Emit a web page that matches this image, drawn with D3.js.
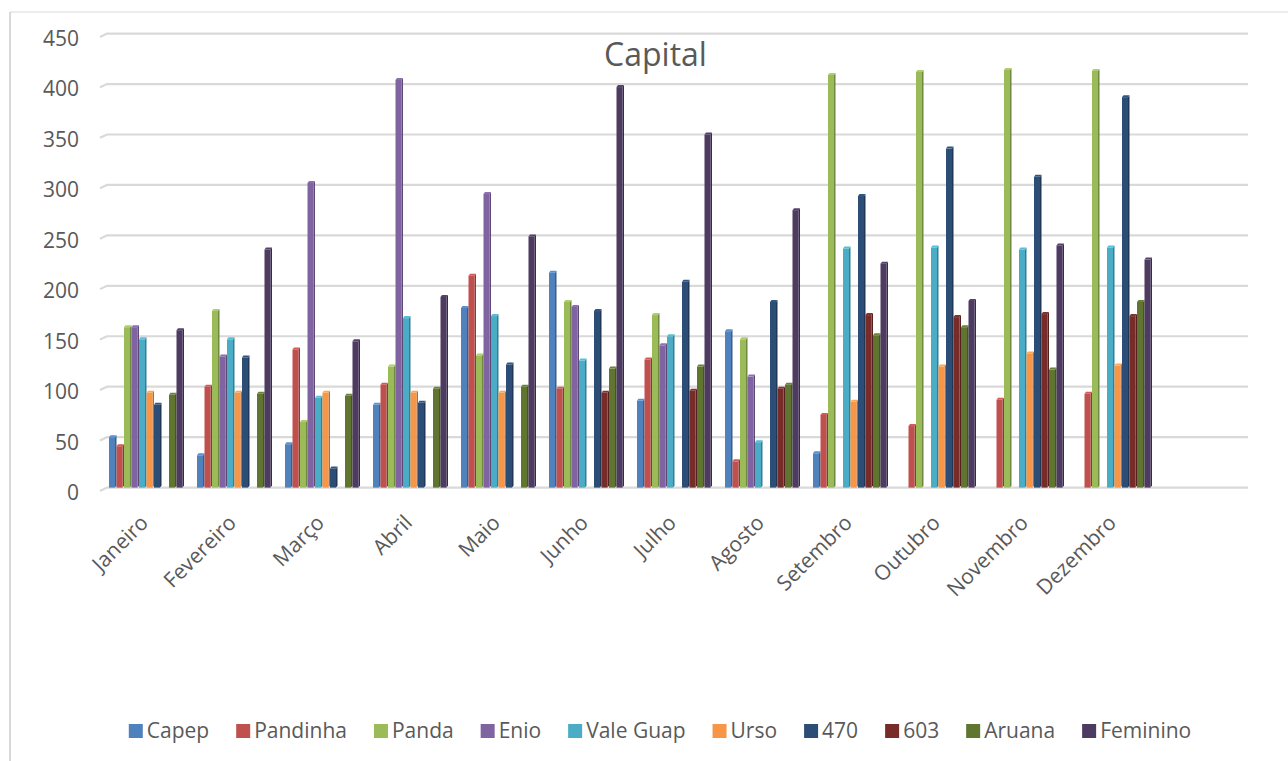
<!DOCTYPE html>
<html><head><meta charset="utf-8">
<script src="https://cdn.jsdelivr.net/npm/d3@7"></script>
<style>html,body{margin:0;padding:0;background:#fff;} svg{display:block;font-family:"Open Sans",sans-serif;}</style>
</head><body><div id="chart"></div>
<script>
const months = ["Janeiro","Fevereiro","Março","Abril","Maio","Junho","Julho","Agosto","Setembro","Outubro","Novembro","Dezembro"];
const seriesNames = ["Capep","Pandinha","Panda","Enio","Vale Guap","Urso","470","603","Aruana","Feminino"];
const seriesColors = ["#4F81BD","#C0504D","#9BBB59","#8064A2","#4BACC6","#F79646","#2C4D75","#772C2A","#5F7530","#4D3B62"];
const capep    = [50, 32, 43, 82, 178, 213, 86, 155, 34, 0, 0, 0];
const pandinha = [41, 100, 137, 102, 210, 98, 127, 26, 72, 61, 87, 93];
const panda    = [159, 175, 65, 120, 131, 184, 171, 147, 409, 412, 414, 413];
const enio     = [159, 130, 302, 404, 291, 179, 141, 110, 0, 0, 0, 0];
const valeGuap = [147, 147, 89, 168, 170, 126, 150, 45, 237, 238, 236, 238];
const urso     = [94, 94, 94, 94, 94, 0, 0, 0, 85, 120, 133, 121];
const s470     = [82, 129, 19, 84, 122, 175, 204, 184, 289, 336, 308, 387];
const s603     = [0, 0, 0, 0, 0, 94, 96, 98, 171, 169, 172, 170];
const aruana   = [92, 93, 91, 98, 100, 118, 120, 102, 151, 159, 117, 184];
const feminino = [156, 236, 145, 189, 249, 397, 350, 275, 222, 185, 240, 226];
const yTicks = [0,50,100,150,200,250,300,350,400,450];
const title = "Capital";

const seriesValues = [capep,pandinha,panda,enio,valeGuap,urso,s470,s603,aruana,feminino];

const W = 1288, H = 761;
const svg = d3.select("#chart").append("svg").attr("width", W).attr("height", H);
const textColor = "#595959", gridColor = "#d9d9d9";

// chart border
svg.append("line").attr("x1",10).attr("x2",10).attr("y1",12).attr("y2",H).attr("stroke",gridColor).attr("stroke-width",2);
svg.append("line").attr("x1",10).attr("x2",W).attr("y1",12).attr("y2",12).attr("stroke",gridColor).attr("stroke-width",1);

const y = d3.scaleLinear().domain([0,450]).range([487.6, 33.6]);
const x = d3.scaleBand().domain(months).range([102.5, 1158.5]).paddingInner(13/88).paddingOuter(6.5/88);
const xs = d3.scaleBand().domain(seriesNames).range([0, x.bandwidth()]);

// gridlines
svg.append("g").selectAll("path").data(yTicks).join("path")
  .attr("d", t => `M100,${y(t)+3.3}L107,${y(t)}L1248,${y(t)}`)
  .attr("fill","none").attr("stroke",gridColor).attr("stroke-width",2.2);

// y labels
svg.append("g").selectAll("text").data(yTicks).join("text")
  .attr("x", 79).attr("y", t => y(t)+5).attr("dy","0.35em")
  .attr("text-anchor","end").attr("fill",textColor).attr("font-size",21).text(d=>d);

// bars
const bars = [];
seriesNames.forEach((s,si) => months.forEach((m,mi) => {
  const v = seriesValues[si][mi];
  if (v > 0) bars.push({s, si, m, v});
}));
const sw = xs.bandwidth();
const fw = sw*0.8, dep = sw - fw, dy = 2;
const g = svg.append("g");
bars.forEach(b => {
  const x0 = x(b.m) + xs(b.s), y0 = y(b.v), yb = y(0);
  const c = d3.color(seriesColors[b.si]);
  g.append("path").attr("d", `M${x0+fw},${yb}L${x0+fw},${y0}L${x0+sw},${y0-dy}L${x0+sw},${yb-dy}L${x0+fw},${yb}Z`)
    .attr("fill", c.darker(0.9));
  g.append("rect").attr("x", x0).attr("y", y0).attr("width", fw).attr("height", yb - y0).attr("fill", c);
  g.append("path").attr("d", `M${x0},${y0}L${x0+dep},${y0-dy}L${x0+sw},${y0-dy}L${x0+fw},${y0}Z`)
    .attr("fill", c.brighter(0.3));
});

// x labels
svg.append("g").selectAll("text").data(months).join("text")
  .attr("transform", m => `translate(${x(m)+x.bandwidth()/2+3},${524}) rotate(-45)`)
  .attr("text-anchor","end").attr("fill",textColor).attr("font-size",21).text(d=>d);

// title
svg.append("text").attr("x",655.5).attr("y",66).attr("text-anchor","middle")
  .attr("fill",textColor).attr("font-size",32).text(title);

// legend
const lg = svg.append("g");
const items = seriesNames.map((s,i) => {
  const it = lg.append("g");
  it.append("rect").attr("width",14).attr("height",14).attr("y",724).attr("fill",seriesColors[i]);
  const t = it.append("text").attr("x",18).attr("y",738).attr("fill",textColor).attr("font-size",21).text(s);
  return {it, w: t.node().getComputedTextLength()};
});
const gap = 27;
const total = d3.sum(items, d => 18 + d.w) + gap*(items.length-1);
let cx = 660 - total/2;
items.forEach(d => { d.it.attr("transform", `translate(${cx},0)`); cx += 18 + d.w + gap; });
</script></body></html>
